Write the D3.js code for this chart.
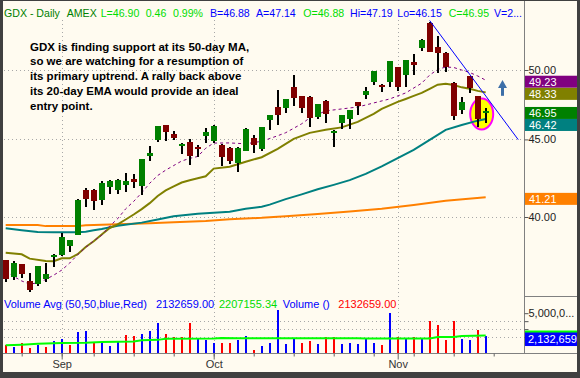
<!DOCTYPE html>
<html lang="en">
<head>
<meta charset="UTF-8">
<title>GDX Daily</title>
<script src="https://cdn.jsdelivr.net/npm/d3@7"></script>
<style>
  body { margin: 0; background: #404040; }
  svg { display: block; }
</style>
</head>
<body>
<div id="chart"></div>
<script>
// daily bars, oldest first
const opens  = [37.45,36.51,37.22,36.27,36.14,36.38,37.63,37.73,38.26,38.94,41.69,41.69,41.07,41.84,41.69,42.01,42.39,41.90,43.91,44.97,
                46.00,45.34,44.62,44.82,44.51,45.20,44.86,44.63,44.45,43.42,44.22,45.13,44.32,46.35,47.27,47.21,48.75,48.07,48.02,46.56,
                47.71,45.48,46.16,46.42,47.61,48.14,49.12,48.88,49.12,50.21,49.62,50.63,51.72,53.67,51.81,51.33,49.05,47.06,49.55,48.07,46.88];
const highs  = [37.50,37.44,37.24,36.72,37.13,37.28,37.80,39.04,38.63,41.10,41.80,41.72,42.22,42.30,42.35,42.75,42.71,43.70,44.58,45.95,
                46.02,45.59,44.75,45.02,44.63,45.77,45.98,44.70,44.50,44.48,45.76,45.28,45.86,46.72,48.51,47.86,49.62,48.10,48.05,47.52,
                47.74,45.64,46.72,47.09,47.64,48.75,49.95,48.98,50.72,50.24,50.79,51.23,52.40,53.82,52.65,51.36,49.10,48.01,49.58,48.10,47.19];
const lows   = [36.25,36.36,36.49,35.67,36.01,36.22,37.07,37.70,37.91,38.90,40.59,40.45,40.76,41.42,41.44,41.52,41.80,41.33,43.52,44.82,
                44.86,44.93,44.03,43.30,43.81,44.77,44.75,43.25,43.35,42.80,44.19,44.11,44.21,45.66,46.00,46.87,47.34,46.87,45.88,46.44,
                46.16,44.51,45.73,45.73,46.72,47.84,48.90,48.39,48.75,48.46,48.75,49.62,51.49,51.40,49.80,49.87,46.35,46.78,48.27,45.88,46.15];
const closes = [36.42,37.28,36.68,35.83,37.12,36.66,37.78,38.78,38.61,41.07,41.13,40.97,42.12,42.27,42.33,42.27,42.16,43.68,44.11,45.93,
                45.50,45.09,44.72,43.89,44.34,45.48,45.95,43.81,43.58,44.45,45.73,44.60,45.84,46.68,46.72,47.84,47.91,47.21,46.49,47.49,
                46.75,45.61,46.70,47.06,47.37,48.44,49.92,48.71,50.69,48.75,50.76,50.38,52.33,51.42,51.33,50.25,46.65,47.66,48.68,46.40,46.95];
const closeBefore = 36.80;

// volume, millions of shares
const volumes = [0.97,0.71,1.22,0.63,0.97,0.71,1.47,1.72,0.97,2.61,2.73,1.35,1.47,0.84,1.35,2.23,2.10,2.35,2.73,3.74,
                 2.35,1.97,1.97,3.74,1.85,1.60,1.22,1.30,1.22,1.60,2.10,0.34,0.84,1.22,5.38,1.17,1.93,1.30,1.47,1.17,
                 2.05,2.05,1.17,1.30,1.17,1.72,1.30,0.97,4.99,1.97,1.80,1.97,1.93,3.98,3.48,1.59,3.98,1.72,1.59,2.85,2.132659];

// moving averages as [bar index, value]
const sma10 = [[0,36.84],[1,36.55],[2,36.30],[3,36.12],[4,36.20],[5,36.38],[6,36.62],[7,36.90],[8,37.30],[9,37.78],[10,38.20],
               [11,38.58],[12,38.90],[13,39.45],[14,39.90],[15,40.50],[16,40.96],[17,41.50],[18,42.10],[19,42.60],[20,42.95],
               [21,43.25],[22,43.55],[23,43.72],[24,43.85],[25,44.40],[26,44.75],[28,44.76],[30,44.70],[32,44.87],[34,45.25],
               [35,45.46],[37,46.08],[38,46.49],[40,46.99],[42,47.13],[44,47.27],[46,47.56],[48,47.85],[50,48.29],[52,49.01],
               [53,49.62],[54,50.04],[55,50.23],[56,50.19],[57,50.00],[58,49.81],[59,49.55],[60,49.23]];
const ema20 = [[0,37.89],[2,37.80],[3,37.55],[5,37.42],[6,37.40],[7,37.57],[8,37.57],[9,37.80],[10,38.22],[11,38.55],[12,38.95],
               [13,39.34],[14,39.55],[15,39.85],[16,40.15],[17,40.48],[18,40.85],[19,41.30],[20,41.65],[21,41.90],[22,42.15],
               [23,42.30],[24,42.42],[25,42.55],[26,43.05],[28,43.17],[30,43.50],[32,43.80],[34,44.36],[36,45.04],[38,45.45],
               [40,45.66],[42,45.83],[44,46.21],[46,46.78],[47,47.13],[49,47.64],[50,47.85],[51,48.07],[52,48.29],[53,48.59],
               [54,48.90],[55,48.97],[56,48.88],[57,48.70],[58,48.59],[59,48.44],[60,48.33]];
const sma50 = [[0,39.32],[2,39.20],[4,39.10],[6,39.08],[9,39.09],[10,39.12],[11,39.20],[12,39.28],[14,39.47],[17,39.66],[19,39.85],
               [21,40.05],[24,40.20],[28,40.32],[30,40.51],[32,40.63],[33,40.76],[35,41.10],[37,41.40],[39,41.72],[41,42.00],
               [43,42.30],[45,42.71],[47,43.19],[49,43.74],[51,44.29],[53,44.97],[55,45.66],[57,46.00],[59,46.30],[60,46.42]];
const sma200 = [[0,39.51],[4,39.51],[5,39.45],[9,39.45],[10,39.50],[13,39.55],[18,39.62],[21,39.68],[25,39.76],[28,39.86],
                [32,39.95],[35,40.05],[39,40.19],[43,40.33],[47,40.51],[51,40.74],[55,41.00],[60,41.21]];
const volAvg = [[0,0.97],[2,1.05],[4,1.15],[7,1.25],[10,1.30],[12,1.38],[16,1.45],[17,1.59],[19,1.65],[20,1.80],[26,1.82],
                [27,1.89],[29,1.84],[44,1.86],[45,1.82],[53,1.82],[54,2.00],[56,2.02],[57,2.14],[60,2.207155]];

const priceTicks = [40, 45, 50];
const volTicks = [2, 3, 4, 5];
const weekTicks = [2, 7, 11, 16, 21, 26, 31, 36, 41, 46, 51, 56, 61];
const monthTicks = [7, 26, 49];
const monthNames = ["Sep", "Oct", "Nov"];

// trendline from the top, arrow, highlight ellipse (bar index, price)
const trend = [[53, 53.9], [64.07, 44.98]];
const arrow = {i: 62.1, from: 48.08, to: 49.25};
const ring = {i: 59.5, p: 46.77};

const note = ["GDX is finding support at its 50-day MA,",
              "so we are watching for a resumption of",
              "its primary uptrend.  A rally back above",
              "its 20-day EMA would provide an ideal",
              "entry point."];

const font = '"Liberation Sans", Arial, sans-serif';
const W = 580, H = 378;

const svg = d3.select("#chart").append("svg")
    .attr("width", W).attr("height", H)
    .attr("font-family", font);

svg.append("rect").attr("width", W).attr("height", H).attr("fill", "#404040");
svg.append("rect").attr("x", 3).attr("y", 1).attr("width", 574).attr("height", 371).attr("fill", "#FFFBF0");

// scales
const x = d3.scaleLinear().domain([0, 60]).range([5.7, 485.7]);
const y = d3.scaleLog().domain([40, 50]).range([217, 70]);
const yv = d3.scaleLinear().domain([0, 5]).range([353, 313.2]);

// grid
const grid = svg.append("g").attr("stroke", "#A8A8A8").attr("stroke-dasharray", "1,3");
grid.selectAll(".hp").data(priceTicks).join("line")
    .attr("x1", 4).attr("x2", 524).attr("y1", d => Math.round(y(d)) + 0.5).attr("y2", d => Math.round(y(d)) + 0.5);
grid.selectAll(".hv").data(volTicks.filter(d => d < 5)).join("line")
    .attr("x1", 4).attr("x2", 524).attr("y1", d => Math.round(yv(d)) + 0.5).attr("y2", d => Math.round(yv(d)) + 0.5);
grid.selectAll(".vm").data(monthTicks).join("line")
    .attr("y1", 20).attr("y2", 353).attr("x1", d => Math.round(x(d)) + 0.5).attr("x2", d => Math.round(x(d)) + 0.5);

// highlight ring
svg.append("ellipse")
    .attr("cx", x(ring.i)).attr("cy", y(ring.p)).attr("rx", 11.5).attr("ry", 15.5)
    .attr("fill", "#FFFF00").attr("stroke", "#FF00FF").attr("stroke-width", 2);

// moving averages
const line = d3.line().x(d => x(d[0])).y(d => y(d[1]));
svg.append("path").datum(sma200).attr("d", line).attr("fill", "none").attr("stroke", "#FF8000").attr("stroke-width", 2);
svg.append("path").datum(sma50).attr("d", line).attr("fill", "none").attr("stroke", "#008080").attr("stroke-width", 2);
svg.append("path").datum(ema20).attr("d", line).attr("fill", "none").attr("stroke", "#808000").attr("stroke-width", 2);
svg.append("path").datum(sma10).attr("d", line).attr("fill", "none").attr("stroke", "#800080")
    .attr("stroke-width", 1).attr("stroke-dasharray", "3,3");

// candles
const bars = opens.map((o, i) => ({i, o, h: highs[i], l: lows[i], c: closes[i], v: volumes[i],
                                   prev: i ? closes[i - 1] : closeBefore}));
const candles = svg.append("g").attr("shape-rendering", "crispEdges");
candles.selectAll(".wick").data(bars).join("rect")
    .attr("x", d => x(d.i) - 1).attr("width", 2)
    .attr("y", d => y(d.h)).attr("height", d => y(d.l) - y(d.h))
    .attr("fill", "#000");
candles.selectAll(".body").data(bars).join("rect")
    .attr("x", d => x(d.i) - 3).attr("width", 6)
    .attr("y", d => y(Math.max(d.o, d.c)))
    .attr("height", d => Math.max(2, Math.abs(y(d.o) - y(d.c))))
    .attr("fill", d => d.c >= d.o ? "#008000" : "#800000");

// trendline
svg.append("line")
    .attr("x1", x(trend[0][0])).attr("y1", y(trend[0][1]))
    .attr("x2", x(trend[1][0])).attr("y2", y(trend[1][1]))
    .attr("stroke", "#0000FF").attr("stroke-width", 1);

// arrow
const ax = x(arrow.i), aTop = y(arrow.to), aBot = y(arrow.from);
svg.append("rect").attr("x", ax - 1.5).attr("y", aTop + 7).attr("width", 3).attr("height", aBot - aTop - 7).attr("fill", "#3D6FA8");
svg.append("path").attr("d", `M${ax},${aTop} L${ax + 4.5},${aTop + 8} L${ax - 4.5},${aTop + 8} Z`).attr("fill", "#3D6FA8");

// volume
svg.append("g").attr("shape-rendering", "crispEdges")
  .selectAll("rect").data(bars).join("rect")
    .attr("x", d => x(d.i) - 1).attr("width", 2)
    .attr("y", d => yv(d.v)).attr("height", d => yv(0) - yv(d.v))
    .attr("fill", d => d.c >= d.prev ? "#0000FF" : "#FF0000");
svg.append("path").datum(volAvg)
    .attr("d", d3.line().x(d => x(d[0])).y(d => yv(d[1])))
    .attr("fill", "none").attr("stroke", "#00FF00").attr("stroke-width", 2);

// frame lines
svg.append("line").attr("x1", 524.5).attr("x2", 524.5).attr("y1", 1).attr("y2", 353).attr("stroke", "#808080");
svg.append("line").attr("x1", 3).attr("x2", 577).attr("y1", 353.5).attr("y2", 353.5).attr("stroke", "#808080");
svg.append("line").attr("x1", 524).attr("x2", 577).attr("y1", 296.5).attr("y2", 296.5).attr("stroke", "#808080");

// right axes
const pAxis = svg.append("g").attr("transform", "translate(524.5,0)")
    .call(d3.axisRight(y).tickValues(priceTicks).tickFormat(d3.format(".2f")).tickSize(4).tickPadding(0));
const vAxis = svg.append("g").attr("transform", "translate(524.5,0)")
    .call(d3.axisRight(yv).tickValues(volTicks).tickSize(4).tickPadding(0)
      .tickFormat(d => d === 5 ? d3.format(",")(d * 1e6).slice(0, 7) + "..." : ""));
[pAxis, vAxis].forEach(g => {
  g.select(".domain").remove();
  g.selectAll(".tick line").attr("stroke", "#555");
  g.selectAll("text").attr("font-size", 11).attr("fill", "#222").attr("font-family", font);
});

// last value boxes, nudged so two close labels do not sit on each other
const lastBoxes = [
  [sma200[sma200.length - 1][1], "#FF8000"],
  [ema20[ema20.length - 1][1], "#808000"],
  [sma10[sma10.length - 1][1], "#800080"],
  [closes[closes.length - 1], "#008000"],
  [sma50[sma50.length - 1][1], "#008080"]
];
const boxG = svg.append("g");
let prevBottom = -Infinity;
lastBoxes.slice().sort((a, b) => b[0] - a[0]).forEach(([v, col]) => {
  let top = y(v) + 1.5 - 6;
  if (top < prevBottom) top = prevBottom;
  prevBottom = top + 12;
  boxG.append("rect").attr("x", 525).attr("y", top).attr("width", 52).attr("height", 12).attr("fill", col);
  boxG.append("text").attr("x", 529).attr("y", top + 10).attr("fill", "#fff").attr("font-size", 11).text(d3.format(".2f")(v));
});
const lastAvg = volAvg[volAvg.length - 1][1], lastVol = volumes[volumes.length - 1];
svg.append("rect").attr("x", 525).attr("y", yv(lastVol) - 4).attr("width", 52).attr("height", 14).attr("fill", "#0000FF");
svg.append("line").attr("x1", 525).attr("x2", 577).attr("y1", yv(lastAvg) - 4).attr("y2", yv(lastAvg) - 4)
    .attr("stroke", "#00FF00").attr("stroke-width", 2);
svg.append("defs").append("clipPath").attr("id", "boxclip")
  .append("rect").attr("x", 525).attr("y", 0).attr("width", 52).attr("height", H);
svg.append("text").attr("clip-path", "url(#boxclip)")
    .attr("x", 528).attr("y", yv(lastVol) + 7).attr("fill", "#fff").attr("font-size", 11)
    .text(d3.format(",")(Math.round(lastVol * 1e6)));

// bottom axis
const xAxisG = svg.append("g").attr("transform", "translate(0,353.5)");
xAxisG.call(d3.axisBottom(x).tickValues(weekTicks).tickSize(3).tickFormat(""));
xAxisG.call(g => g.select(".domain").remove());
const mAxisG = svg.append("g").attr("transform", "translate(0,353.5)");
mAxisG.call(d3.axisBottom(x).tickValues(monthTicks).tickSize(6).tickPadding(1)
    .tickFormat((d, k) => monthNames[k]));
mAxisG.select(".domain").remove();
[xAxisG, mAxisG].forEach(g => g.selectAll(".tick line").attr("stroke", "#666"));
mAxisG.selectAll("text").attr("font-size", 11).attr("fill", "#333").attr("font-family", font);

// header
const lime = "#00DD00", blue = "#0000FF", dkgreen = "#008000";
const head = [["GDX - Daily", 4, dkgreen], ["AMEX", 66.7, dkgreen], ["L=46.90", 100.7, lime], ["0.46", 145.7, lime],
              ["0.99%", 173, lime], ["B=46.88", 210, blue], ["A=47.14", 256, blue], ["O=46.88", 303.3, lime],
              ["Hi=47.19", 350, blue], ["Lo=46.15", 397.3, blue], ["C=46.95", 448.7, lime], ["V=2...", 494, blue]];
svg.append("g").selectAll("text").data(head).join("text")
    .attr("x", d => d[1]).attr("y", 16.5).attr("font-size", 10.6).attr("fill", d => d[2]).text(d => d[0]);

// volume title
const vtitle = [["Volume Avg (50,50,blue,Red)", 4, blue], ["2132659.00", 156, blue], ["2207155.34", 219, lime],
                ["Volume ()", 282.7, blue], ["2132659.00", 338.3, "#FF0000"]];
svg.append("g").selectAll("text").data(vtitle).join("text")
    .attr("x", d => d[1]).attr("y", 307.5).attr("font-size", 11).attr("fill", d => d[2]).text(d => d[0]);

// annotation
svg.append("g").selectAll("text").data(note).join("text")
    .attr("x", 30).attr("y", (d, k) => 50.5 + k * 14.9)
    .attr("font-size", 11.5).attr("font-weight", "bold").attr("fill", "#000")
    .text(d => d);
</script>
</body>
</html>
